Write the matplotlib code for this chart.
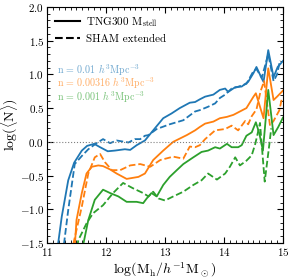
import matplotlib
matplotlib.use('Agg')
import matplotlib.pyplot as plt
from matplotlib.lines import Line2D
from matplotlib.ticker import MultipleLocator

# (log halo mass, log <N>)
# n = 0.01, TNG300 solid
blue_tng_x = [11.15, 11.19, 11.25, 11.36, 11.46, 11.59, 11.68, 11.80, 11.90, 12.03, 12.15, 12.32, 12.41,
              12.52, 12.66, 12.80, 12.97, 13.11, 13.25, 13.42, 13.51, 13.59, 13.68, 13.82, 13.93, 14.02,
              14.07, 14.19, 14.30, 14.41, 14.50, 14.55, 14.64, 14.67, 14.75, 14.84, 14.91, 15.0]
blue_tng_y = [-1.8, -1.5, -1.11, -0.57, -0.31, -0.13, -0.06, -0.03, -0.08, -0.14, -0.13, -0.11, -0.12,
              -0.05, 0.02, 0.17, 0.35, 0.42, 0.50, 0.58, 0.59, 0.63, 0.67, 0.70, 0.77, 0.79,
              0.74, 0.81, 0.82, 0.89, 1.02, 1.11, 0.94, 0.89, 1.36, 0.96, 1.11, 1.20]
# n = 0.01, SHAM dashed
blue_sham_x = [11.25, 11.29, 11.36, 11.42, 11.47, 11.59, 11.70, 11.84, 11.95, 12.07, 12.18, 12.38, 12.49,
               12.58, 12.66, 12.72, 12.86, 13.08, 13.31, 13.51, 13.59, 13.73, 13.85, 13.93, 14.02,
               14.13, 14.22, 14.38, 14.50, 14.55, 14.64, 14.75, 14.84, 14.90, 14.95]
blue_sham_y = [-1.8, -1.5, -1.01, -0.64, -0.33, -0.21, -0.11, -0.02, 0.04, -0.02, 0.02, -0.01, 0.04,
               0.04, 0.09, 0.10, 0.19, 0.26, 0.32, 0.45, 0.47, 0.52, 0.57, 0.65, 0.70,
               0.79, 0.81, 0.86, 1.05, 1.08, 0.95, 1.30, 0.90, 1.00, 1.21]

# n = 0.00316
orange_tng_x = [11.46, 11.50, 11.59, 11.67, 11.76, 11.87, 11.95, 12.07, 12.18, 12.35, 12.55, 12.66,
                12.80, 12.97, 13.14, 13.37, 13.51, 13.59, 13.68, 13.82, 13.93, 14.05, 14.16, 14.27,
                14.38, 14.50, 14.54, 14.61, 14.67, 14.75, 14.84, 14.90, 15.0]
orange_tng_y = [-1.7, -1.16, -0.76, -0.47, -0.37, -0.35, -0.36, -0.41, -0.47, -0.55, -0.52, -0.47,
                -0.27, -0.13, 0.0, 0.10, 0.17, 0.22, 0.27, 0.30, 0.35, 0.37, 0.40, 0.45,
                0.50, 0.67, 0.72, 0.52, 0.35, 1.09, 0.62, 0.67, 0.76]
orange_sham_x = [11.42, 11.45, 11.59, 11.70, 11.81, 11.90, 11.98, 12.10, 12.24, 12.41, 12.58, 12.75,
                 12.92, 13.14, 13.31, 13.42, 13.51, 13.59, 13.68, 13.85, 14.02, 14.13, 14.24, 14.36,
                 14.41, 14.47, 14.55, 14.62, 14.68, 14.78, 14.84, 14.94, 14.98]
orange_sham_y = [-1.8, -1.5, -0.96, -0.47, -0.23, -0.18, -0.30, -0.42, -0.42, -0.35, -0.33, -0.37,
                 -0.27, -0.22, -0.25, -0.07, -0.08, -0.05, 0.04, 0.17, 0.19, 0.24, 0.17, 0.31,
                 0.26, 0.38, 0.48, 0.75, 0.90, 0.24, 0.31, 0.47, 0.64]

# n = 0.001
green_tng_x = [11.58, 11.62, 11.70, 11.81, 11.95, 12.07, 12.21, 12.35, 12.52, 12.63, 12.69, 12.77,
               12.86, 12.97, 13.08, 13.20, 13.31, 13.48, 13.62, 13.73, 13.85, 13.93, 14.05, 14.13,
               14.24, 14.30, 14.38, 14.47, 14.54, 14.60, 14.66, 14.75, 14.84, 14.92, 15.0]
green_tng_y = [-1.8, -1.5, -1.16, -0.86, -0.71, -0.76, -0.81, -0.89, -0.89, -0.91, -0.84, -0.76,
               -0.81, -0.64, -0.52, -0.42, -0.33, -0.23, -0.15, -0.13, -0.08, -0.10, -0.03, -0.08,
               -0.08, -0.05, 0.09, 0.14, 0.29, 0.12, -0.13, 0.77, 0.10, 0.22, 0.36]
green_sham_x = [11.49, 11.53, 11.67, 11.78, 11.95, 12.12, 12.29, 12.46, 12.63, 12.72, 12.80, 12.89,
                13.0, 13.14, 13.31, 13.48, 13.62, 13.73, 13.88, 14.02, 14.10, 14.19, 14.27, 14.38,
                14.47, 14.53, 14.57, 14.61, 14.69, 14.77, 14.80]
green_sham_y = [-1.7, -1.46, -1.21, -1.06, -0.94, -0.76, -0.61, -0.69, -0.76, -0.81, -0.74, -0.84,
                -0.87, -0.81, -0.74, -0.64, -0.57, -0.47, -0.56, -0.47, -0.37, -0.23, -0.35, -0.28,
                -0.20, -0.03, 0.12, 0.28, -0.59, -0.03, 0.20]

density_labels = [r'n = 0.01 $h^3\mathrm{Mpc^{-3}}$',
                  r'n = 0.00316 $h^3\mathrm{Mpc^{-3}}$',
                  r'n = 0.001 $h^3\mathrm{Mpc^{-3}}$']

plt.rcParams['font.family'] = 'serif'
plt.rcParams['font.serif'] = ['cmr10']
plt.rcParams['mathtext.fontset'] = 'cm'
plt.rcParams['axes.formatter.use_mathtext'] = True

colors = ['#1f77b4', '#ff7f0e', '#2ca02c']

fig = plt.figure(figsize=(2.91, 2.78), dpi=100)
ax = fig.add_axes([0.1615, 0.126, 0.811, 0.849])

lw = 1.3
ax.plot(blue_tng_x, blue_tng_y, color=colors[0], lw=lw)
ax.plot(blue_sham_x, blue_sham_y, color=colors[0], lw=lw, ls='--')
ax.plot(orange_tng_x, orange_tng_y, color=colors[1], lw=lw)
ax.plot(orange_sham_x, orange_sham_y, color=colors[1], lw=lw, ls='--')
ax.plot(green_tng_x, green_tng_y, color=colors[2], lw=lw)
ax.plot(green_sham_x, green_sham_y, color=colors[2], lw=lw, ls='--')

ax.axhline(0, color='gray', ls=':', lw=0.8)

ax.set_xlim(11, 15)
ax.set_ylim(-1.5, 2.0)
ax.xaxis.set_major_locator(MultipleLocator(1))
ax.xaxis.set_minor_locator(MultipleLocator(0.1))
ax.yaxis.set_major_locator(MultipleLocator(0.5))
ax.yaxis.set_minor_locator(MultipleLocator(0.1))
ax.tick_params(which='both', direction='in', top=True, right=True, labelsize=8, pad=2)
ax.tick_params(which='major', length=4.5)
ax.tick_params(which='minor', length=2)
for s in ax.spines.values():
    s.set_linewidth(0.8)

ax.set_xlabel(r'$\log(\mathrm{M_h}/h^{-1}\mathrm{M_\odot})$', fontsize=10, labelpad=2)
ax.set_ylabel(r'$\log(\langle\mathrm{N}\rangle)$', fontsize=10, labelpad=0)

handles = [Line2D([], [], color='k', lw=1.5),
           Line2D([], [], color='k', lw=1.5, ls='--')]
ax.legend(handles, [r'TNG300 $\mathrm{M_{stell}}$', 'SHAM extended'], loc='upper left',
          frameon=False, fontsize=8, handlelength=2.3, handletextpad=0.5,
          borderaxespad=0.3, labelspacing=0.5)

text_y = [0.733, 0.676, 0.619]
for i, lab in enumerate(density_labels):
    ax.text(0.042, text_y[i], lab, transform=ax.transAxes, color=colors[i],
            alpha=0.65, fontsize=7.2, va='center')

fig.savefig('out.png', dpi=100)
